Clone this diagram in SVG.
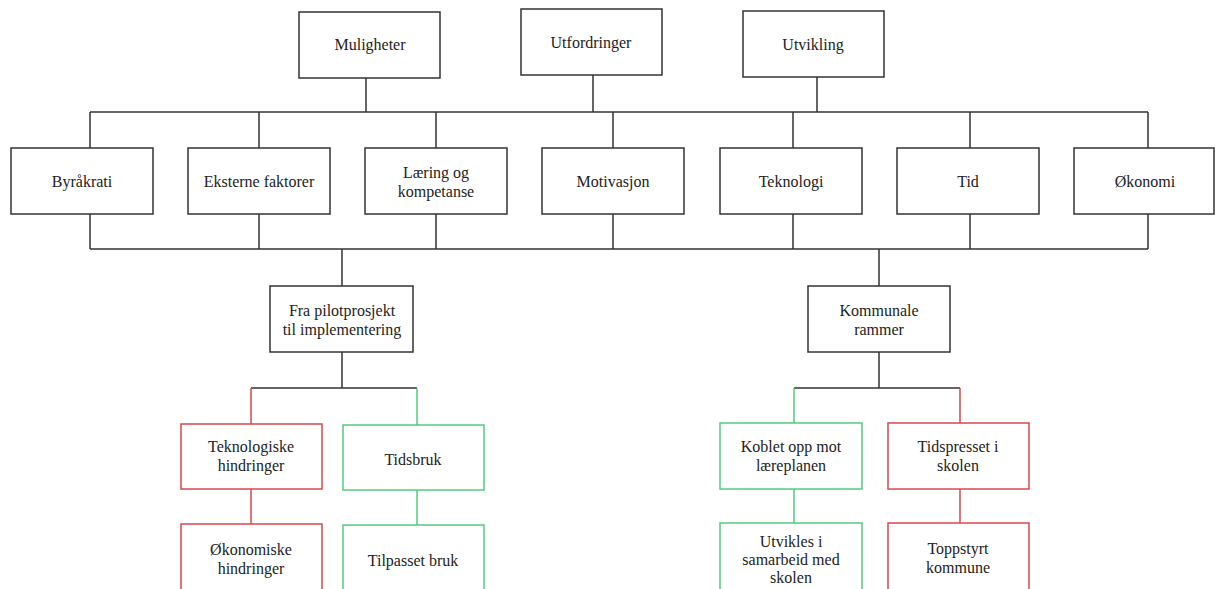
<svg xmlns="http://www.w3.org/2000/svg" width="1215" height="589" viewBox="0 0 1215 589">
<defs>
<style>
rect{fill:#fff;stroke-width:1.5}
.k{stroke:#333}
.r{stroke:#d9484b}
.g{stroke:#52cc7c}
#connectors path{fill:none;stroke-width:1.5}
</style>
</defs>
<rect x="0" y="0" width="1215" height="589" style="fill:#fff;stroke:none"/>
<g id="connectors">
<path class="k" d="M366 78V112M593 75V112M817 77V112M90 112H1148M90 112V148M259 112V148M436 112V148M613 112V148M793 112V148M970 112V148M1148 112V148"/>
<path class="k" d="M90 214V249M259 214V249M436 214V249M613 214V249M793 214V249M970 214V249M1148 214V249M90 249H1148M342 249V286M879 249V286"/>
<path class="k" d="M342 352V388M251 388H417M879 352V388M794 388H960"/>
<path class="r" d="M251 388V424M251 489V524M960 388V423M960 489V523"/>
<path class="g" d="M417 388V425M417 490V525M794 388V423M794 489V523"/>
</g>
<g id="n-muligheter"><rect class="k" x="299" y="12" width="141" height="66"/><text font-family="Liberation Serif" font-size="16" fill="#222" text-anchor="middle" x="370" y="50">Muligheter</text></g>
<g id="n-utfordringer"><rect class="k" x="521" y="9" width="141" height="66"/><text font-family="Liberation Serif" font-size="16" fill="#222" text-anchor="middle" x="591" y="48">Utfordringer</text></g>
<g id="n-utvikling"><rect class="k" x="743" y="11" width="141" height="66"/><text font-family="Liberation Serif" font-size="16" fill="#222" text-anchor="middle" x="813" y="50">Utvikling</text></g>
<g id="n-byrakrati"><rect class="k" x="11" y="148" width="142" height="66"/><text font-family="Liberation Serif" font-size="16" fill="#222" text-anchor="middle" x="82" y="187">Byråkrati</text></g>
<g id="n-eksterne"><rect class="k" x="188" y="148" width="142" height="66"/><text font-family="Liberation Serif" font-size="16" fill="#222" text-anchor="middle" x="259" y="187">Eksterne faktorer</text></g>
<g id="n-laering"><rect class="k" x="365" y="148" width="142" height="66"/><text font-family="Liberation Serif" font-size="16" fill="#222" text-anchor="middle" x="436" y="178">Læring og</text><text font-family="Liberation Serif" font-size="16" fill="#222" text-anchor="middle" x="436" y="197">kompetanse</text></g>
<g id="n-motivasjon"><rect class="k" x="542" y="148" width="142" height="66"/><text font-family="Liberation Serif" font-size="16" fill="#222" text-anchor="middle" x="613" y="187">Motivasjon</text></g>
<g id="n-teknologi"><rect class="k" x="720" y="148" width="142" height="66"/><text font-family="Liberation Serif" font-size="16" fill="#222" text-anchor="middle" x="791" y="187">Teknologi</text></g>
<g id="n-tid"><rect class="k" x="897" y="148" width="142" height="66"/><text font-family="Liberation Serif" font-size="16" fill="#222" text-anchor="middle" x="968" y="187">Tid</text></g>
<g id="n-okonomi"><rect class="k" x="1074" y="148" width="140" height="66"/><text font-family="Liberation Serif" font-size="16" fill="#222" text-anchor="middle" x="1145" y="187">Økonomi</text></g>
<g id="n-pilot"><rect class="k" x="270" y="286" width="143" height="66"/><text font-family="Liberation Serif" font-size="16" fill="#222" text-anchor="middle" x="342" y="316">Fra pilotprosjekt</text><text font-family="Liberation Serif" font-size="16" fill="#222" text-anchor="middle" x="342" y="335">til implementering</text></g>
<g id="n-kommunale"><rect class="k" x="808" y="286" width="142" height="66"/><text font-family="Liberation Serif" font-size="16" fill="#222" text-anchor="middle" x="879" y="316">Kommunale</text><text font-family="Liberation Serif" font-size="16" fill="#222" text-anchor="middle" x="879" y="335">rammer</text></g>
<g id="n-tekhind"><rect class="r" x="181" y="424" width="141" height="65"/><text font-family="Liberation Serif" font-size="16" fill="#222" text-anchor="middle" x="251" y="452">Teknologiske</text><text font-family="Liberation Serif" font-size="16" fill="#222" text-anchor="middle" x="251" y="471">hindringer</text></g>
<g id="n-tidsbruk"><rect class="g" x="343" y="425" width="141" height="65"/><text font-family="Liberation Serif" font-size="16" fill="#222" text-anchor="middle" x="413" y="465">Tidsbruk</text></g>
<g id="n-okhind"><rect class="r" x="181" y="524" width="141" height="75"/><text font-family="Liberation Serif" font-size="16" fill="#222" text-anchor="middle" x="251" y="555">Økonomiske</text><text font-family="Liberation Serif" font-size="16" fill="#222" text-anchor="middle" x="251" y="574">hindringer</text></g>
<g id="n-tilpasset"><rect class="g" x="343" y="525" width="141" height="75"/><text font-family="Liberation Serif" font-size="16" fill="#222" text-anchor="middle" x="413" y="566">Tilpasset bruk</text></g>
<g id="n-koblet"><rect class="g" x="720" y="423" width="142" height="66"/><text font-family="Liberation Serif" font-size="16" fill="#222" text-anchor="middle" x="791" y="452">Koblet opp mot</text><text font-family="Liberation Serif" font-size="16" fill="#222" text-anchor="middle" x="791" y="471">læreplanen</text></g>
<g id="n-tidspresset"><rect class="r" x="888" y="423" width="141" height="66"/><text font-family="Liberation Serif" font-size="16" fill="#222" text-anchor="middle" x="958" y="452">Tidspresset i</text><text font-family="Liberation Serif" font-size="16" fill="#222" text-anchor="middle" x="958" y="471">skolen</text></g>
<g id="n-utvikles"><rect class="g" x="720" y="523" width="142" height="75"/><text font-family="Liberation Serif" font-size="16" fill="#222" text-anchor="middle" x="791" y="547">Utvikles i</text><text font-family="Liberation Serif" font-size="16" fill="#222" text-anchor="middle" x="791" y="565">samarbeid med</text><text font-family="Liberation Serif" font-size="16" fill="#222" text-anchor="middle" x="791" y="583">skolen</text></g>
<g id="n-toppstyrt"><rect class="r" x="888" y="523" width="141" height="75"/><text font-family="Liberation Serif" font-size="16" fill="#222" text-anchor="middle" x="958" y="554">Toppstyrt</text><text font-family="Liberation Serif" font-size="16" fill="#222" text-anchor="middle" x="958" y="573">kommune</text></g>
</svg>
